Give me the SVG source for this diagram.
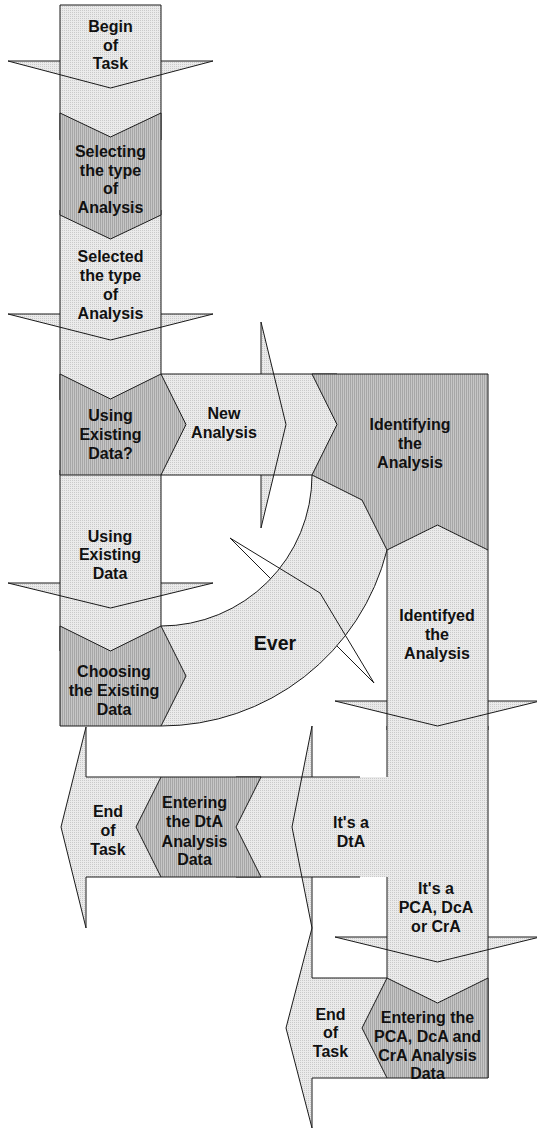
<svg xmlns="http://www.w3.org/2000/svg" width="537" height="1131" viewBox="0 0 537 1131">
<defs>
  <!-- fine dotted light fill and striped dark fill -->
  <pattern id="lt" width="2" height="2" patternUnits="userSpaceOnUse">
    <rect width="2" height="2" fill="#ebebeb"/>
    <rect width="1" height="1" fill="#cacaca"/>
  </pattern>
  <pattern id="dk" width="2" height="2" patternUnits="userSpaceOnUse">
    <rect width="2" height="2" fill="#c6c6c6"/>
    <rect width="1" height="2" fill="#a6a6a6"/>
  </pattern>
</defs>
<style>
  .lt{fill:url(#lt);stroke:none}
  .dk{fill:url(#dk);stroke:#1a1a1a;stroke-width:1;stroke-linejoin:miter}
  .ln{fill:none;stroke:#1a1a1a;stroke-width:1}
  text{font-family:"Liberation Sans",Arial,Helvetica,sans-serif;font-weight:bold;font-size:16px;fill:#111;text-anchor:middle}
  .big{font-size:19.5px}
</style>
<rect width="537" height="1131" fill="#fff"/>

<!-- curved band arrow -->
<g id="ever">
  <path class="lt" d="M312,475 A151,151 0 0 1 161,626 L161,726 A233,233 0 0 0 394,493 L394,475 Z"/>
  <path class="ln" d="M312,475 A151,151 0 0 1 161,626"/>
  <path class="ln" d="M161,726 A233,233 0 0 0 387,550"/>
  <polyline class="ln" points="270.7,578.7 230,538 320,593 374,683 336.9,645.9"/>
  <text class="big" x="275" y="650">Ever</text>
</g>

<g id="new-analysis">
  <rect class="lt" x="161" y="374" width="176" height="101"/>
  <polygon class="lt" points="261,322 286,424.5 261,528"/>
  <path class="ln" d="M161,374 H337 M161,475 H312"/>
  <polyline class="ln" points="261,374 261,322 286,424.5 261,528 261,475"/>
  <text x="224" y="419">New</text>
  <text x="224" y="438">Analysis</text>
</g>

<g id="begin">
  <rect class="lt" x="60" y="5" width="101" height="135"/>
  <polygon class="lt" points="8,61 213,61 110.5,88"/>
  <path class="ln" d="M60,140 V5 H161 V140"/>
  <polyline class="ln" points="60,61 8,61 110.5,88 213,61 161,61"/>
  <text x="110.5" y="32">Begin</text>
  <text x="110.5" y="50.5">of</text>
  <text x="110.5" y="69">Task</text>
</g>

<g id="selected">
  <rect class="lt" x="60" y="210" width="101" height="190"/>
  <polygon class="lt" points="8,314 213,314 110.5,340"/>
  <path class="ln" d="M60,210 V400 M161,210 V400"/>
  <polyline class="ln" points="60,314 8,314 110.5,340 213,314 161,314"/>
  <text x="110.5" y="262">Selected</text>
  <text x="110.5" y="281">the type</text>
  <text x="110.5" y="300">of</text>
  <text x="110.5" y="319">Analysis</text>
</g>

<g id="using-existing">
  <rect class="lt" x="60" y="470" width="101" height="181"/>
  <polygon class="lt" points="8,583 213,583 110.5,608"/>
  <path class="ln" d="M60,470 V651 M161,470 V626"/>
  <polyline class="ln" points="60,583 8,583 110.5,608 213,583 161,583"/>
  <text x="110" y="541.5">Using</text>
  <text x="110" y="560">Existing</text>
  <text x="110" y="579">Data</text>
</g>

<g id="selecting">
  <polygon class="dk" points="60,113 110.5,137 161,113 161,215 110.5,239 60,215"/>
  <text x="110.5" y="157">Selecting</text>
  <text x="110.5" y="175.7">the type</text>
  <text x="110.5" y="194.3">of</text>
  <text x="110.5" y="213">Analysis</text>
</g>

<g id="using-existing-q">
  <polygon class="dk" points="60,374 110.5,399 161,374 186,424.5 161,475 60,475"/>
  <text x="110.5" y="421">Using</text>
  <text x="110.5" y="440">Existing</text>
  <text x="110.5" y="459">Data?</text>
</g>

<g id="choosing">
  <polygon class="dk" points="60,626 110.5,651 161,626 186,676 161,726 60,726"/>
  <text x="114" y="676.5">Choosing</text>
  <text x="114" y="696">the Existing</text>
  <text x="114" y="715">Data</text>
</g>

<g id="pca">
  <rect class="lt" x="387" y="726" width="101" height="277"/>
  <polygon class="lt" points="335,937 540,937 437.5,962"/>
  <path class="ln" d="M387,726 V777 M387,877 V978 M488,726 V1078"/>
  <polyline class="ln" points="387,937 335,937 437.5,962 540,937 488,937"/>
  <text x="436" y="894">It's a</text>
  <text x="436" y="913">PCA, DcA</text>
  <text x="436" y="932">or CrA</text>
</g>

<g id="identified">
  <polygon class="lt" points="387,550 437.5,525 488,550 488,730 387,730"/>
  <polygon class="lt" points="335,701 540,701 437.5,726"/>
  <path class="ln" d="M387,550 V730 M488,550 V730"/>
  <polyline class="ln" points="387,701 335,701 437.5,726 540,701 488,701"/>
  <text x="437" y="620.5">Identifyed</text>
  <text x="437" y="639.5">the</text>
  <text x="437" y="658.5">Analysis</text>
</g>

<g id="identifying">
  <polygon class="dk" points="312,374 488,374 488,550 437.5,525 387,550 362,500 312,475 337,424.5"/>
  <text x="410" y="430">Identifying</text>
  <text x="410" y="449">the</text>
  <text x="410" y="468">Analysis</text>
</g>

<g id="its-dta">
  <rect class="lt" x="236" y="777" width="152" height="100"/>
  <polygon class="lt" points="312,726 292,827 312,928"/>
  <path class="ln" d="M236,777 H360 M236,877 H360"/>
  <polyline class="ln" points="312,777 312,726 292,827 312,928 312,877"/>
  <text x="351" y="827.5">It's a</text>
  <text x="351" y="846.5">DtA</text>
</g>

<g id="end-dta">
  <rect class="lt" x="86" y="777" width="80" height="100"/>
  <polygon class="lt" points="86,727 61,827 86,928"/>
  <path class="ln" d="M86,777 H161 M86,877 H161"/>
  <polyline class="ln" points="86,777 86,727 61,827 86,928 86,877"/>
  <text x="108" y="817">End</text>
  <text x="108" y="836">of</text>
  <text x="108" y="855">Task</text>
</g>

<g id="entering-dta">
  <polygon class="dk" points="161,777 261,777 236,827 261,877 161,877 136,827"/>
  <text x="194.5" y="808">Entering</text>
  <text x="194.5" y="827">the DtA</text>
  <text x="194.5" y="846.5">Analysis</text>
  <text x="194.5" y="865">Data</text>
</g>

<g id="end-pca">
  <rect class="lt" x="312" y="978" width="80" height="100"/>
  <polygon class="lt" points="312,928 286,1028 312,1128"/>
  <path class="ln" d="M312,978 H387 M312,1078 H387"/>
  <polyline class="ln" points="312,978 312,928 286,1028 312,1128 312,1078"/>
  <text x="330.5" y="1019.5">End</text>
  <text x="330.5" y="1038">of</text>
  <text x="330.5" y="1057">Task</text>
</g>

<g id="entering-pca">
  <polygon class="dk" points="387,978 437.5,1003 488,978 488,1078 387,1078 362,1028"/>
  <text x="427.5" y="1023">Entering the</text>
  <text x="427.5" y="1041.7">PCA, DcA and</text>
  <text x="427.5" y="1060.5">CrA Analysis</text>
  <text x="427.5" y="1079">Data</text>
</g>
</svg>
